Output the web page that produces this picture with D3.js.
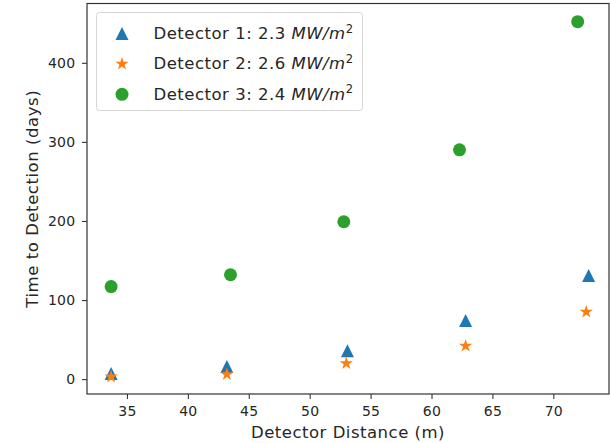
<!DOCTYPE html>
<html>
<head>
<meta charset="utf-8">
<script src="https://cdn.jsdelivr.net/npm/d3@7"></script>
<style>
  html, body { margin: 0; padding: 0; background: #fff; }
  svg { display: block; font-family: "DejaVu Sans", sans-serif; }
</style>
</head>
<body>
<svg id="chart" width="610" height="443"></svg>
<script>
// Detector distances (m) and time to detection (days)
const det1X = [33.7, 43.2, 53.1, 62.8, 72.9];
const det1Y = [7, 16, 36, 74, 131];
const det2X = [33.7, 43.2, 53.0, 62.8, 72.7];
const det2Y = [3, 6, 20, 42, 85];
const det3X = [33.7, 43.5, 52.8, 62.3, 72.0];
const det3Y = [117, 132, 199, 290, 452];

const seriesNames = ["Detector 1: 2.3 ", "Detector 2: 2.6 ", "Detector 3: 2.4 "];
const xTicks = [35, 40, 45, 50, 55, 60, 65, 70];
const yTicks = [0, 100, 200, 300, 400];

const colors = ["#1f77b4", "#ff7f0e", "#2ca02c"];
const shapes = ["triangle", "star", "circle"];

const svg = d3.select("#chart");
const plotL = 87, plotR = 609, plotT = 3.5, plotB = 394;

const x = d3.scaleLinear().domain([31.72, 74.57]).range([plotL, plotR]);
const y = d3.scaleLinear().domain([-18.8, 475]).range([plotB, plotT]);

// marker path centred on the origin, size = overall width in px
function markerPath(shape, size) {
  const r = size / 2;
  if (shape === "triangle") {
    return `M0,${-r}L${-r},${r}L${r},${r}Z`;
  }
  if (shape === "star") {
    const inner = r * 0.381966;
    let p = "";
    for (let i = 0; i < 10; i++) {
      const rad = i % 2 === 0 ? r : inner;
      const a = -Math.PI / 2 + i * Math.PI / 5;
      p += (i === 0 ? "M" : "L") + (rad * Math.cos(a)).toFixed(3) + "," + (rad * Math.sin(a)).toFixed(3);
    }
    return p + "Z";
  }
  return d3.arc()({innerRadius: 0, outerRadius: r, startAngle: 0, endAngle: 2 * Math.PI});
}

// axes
const tickColor = "#333";
const xAxis = svg.append("g").attr("transform", `translate(0,${plotB})`)
  .call(d3.axisBottom(x).tickValues(xTicks).tickSize(5).tickPadding(7.5).tickSizeOuter(0));
const yAxis = svg.append("g").attr("transform", `translate(${plotL},0)`)
  .call(d3.axisLeft(y).tickValues(yTicks).tickSize(5).tickPadding(6.5).tickSizeOuter(0));
[xAxis, yAxis].forEach(g => {
  g.select(".domain").remove();
  g.selectAll(".tick line").attr("stroke", tickColor).attr("stroke-width", 1.1);
  g.selectAll(".tick text").attr("fill", "#262626")
    .style("font-family", "DejaVu Sans").style("font-size", "14px")
    .style("letter-spacing", "0.3px");
});

// plot frame
svg.append("rect")
  .attr("x", plotL).attr("y", plotT)
  .attr("width", plotR - plotL).attr("height", plotB - plotT)
  .attr("fill", "none").attr("stroke", tickColor).attr("stroke-width", 1.2);

// points
const series = [
  {xs: det1X, ys: det1Y},
  {xs: det2X, ys: det2Y},
  {xs: det3X, ys: det3Y}
];
series.forEach((s, i) => {
  svg.append("g").selectAll("path")
    .data(s.xs.map((v, j) => [v, s.ys[j]]))
    .join("path")
    .attr("d", markerPath(shapes[i], i === 1 ? 14 : 13))
    .attr("transform", d => `translate(${x(d[0])},${y(d[1])})`)
    .attr("fill", colors[i]);
});

// axis labels
svg.append("text")
  .attr("x", (plotL + plotR) / 2).attr("y", 437.5)
  .attr("text-anchor", "middle")
  .attr("fill", "#262626")
  .style("font-size", "16.5px")
  .style("letter-spacing", "0.5px")
  .text("Detector Distance (m)");
svg.append("text")
  .attr("transform", `translate(38,${(plotT + plotB) / 2}) rotate(-90)`)
  .attr("text-anchor", "middle")
  .attr("fill", "#262626")
  .style("font-size", "16.5px")
  .style("letter-spacing", "0.55px")
  .text("Time to Detection (days)");

// legend
const lg = svg.append("g");
lg.append("rect")
  .attr("x", 96.5).attr("y", 12.5).attr("width", 266).attr("height", 98)
  .attr("rx", 3).attr("fill", "#fff").attr("fill-opacity", 0.8)
  .attr("stroke", "#d6d6d6").attr("stroke-width", 1);
seriesNames.forEach((name, i) => {
  const base = 39 + i * 30.4;
  lg.append("path")
    .attr("d", markerPath(shapes[i], i === 1 ? 14 : 13))
    .attr("transform", `translate(122,${base - 5.5})`)
    .attr("fill", colors[i]);
  const t = lg.append("text")
    .attr("x", 153.5).attr("y", base)
    .attr("fill", "#262626")
    .style("font-size", "16.5px")
    .style("letter-spacing", "0.5px");
  t.append("tspan").text(name);
  t.append("tspan").style("font-style", "italic").text("MW/m");
  t.append("tspan").attr("dy", -6.5).style("font-size", "11.5px").text("2");
});
</script>
</body>
</html>
